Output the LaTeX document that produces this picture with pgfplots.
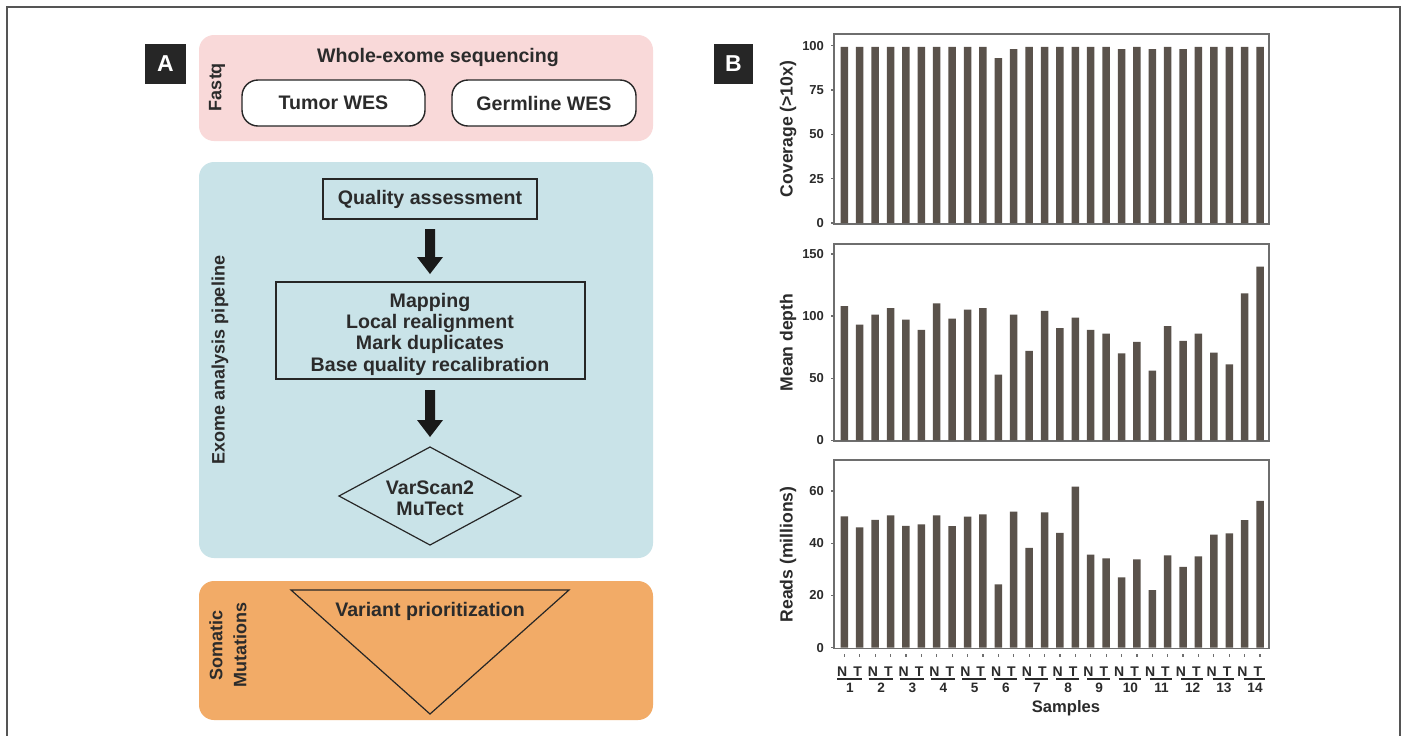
\documentclass[border=0pt]{standalone}
\usepackage{pgfplots}
\pgfplotsset{compat=1.18}
\usepackage{pgfplotstable}
\usepackage{fontspec}
\setmainfont{Liberation Sans}
\definecolor{barc}{HTML}{5A524B}
\definecolor{axcol}{HTML}{6E6E6E}
\definecolor{txtc}{HTML}{2B2B2B}
\definecolor{pinkc}{HTML}{F9D9D9}
\definecolor{bluec}{HTML}{C9E3E8}
\definecolor{orangec}{HTML}{F2AB67}
\definecolor{labelbg}{HTML}{262626}
\definecolor{bordercol}{HTML}{555555}
\newcommand\ft{\bfseries\fontsize{9.8}{11.8}\selectfont}
\newcommand\fr{\bfseries\fontsize{9}{11}\selectfont}

\pgfplotstableread{
x cov depth reads
0 99.4 108.1 50.3
1 99.4 93.1 46.1
2 99.4 101.2 49.0
3 99.4 106.3 50.7
4 99.4 97.1 46.7
5 99.4 88.8 47.2
6 99.4 110.3 50.7
7 99.4 97.9 46.6
8 99.4 105.2 50.2
9 99.4 106.3 51.1
10 93.0 52.9 24.3
11 98.1 101.2 52.1
12 99.4 71.9 38.2
13 99.4 104.1 51.8
14 99.4 90.2 44.0
15 99.4 98.7 61.7
16 99.4 88.8 35.7
17 99.4 85.9 34.2
18 98.1 70.0 26.9
19 99.4 79.2 33.8
20 98.1 56.1 22.1
21 99.4 92.0 35.4
22 98.1 80.0 31.0
23 99.4 85.9 35.0
24 99.4 70.6 43.3
25 99.4 61.2 43.8
26 99.4 118.3 48.9
27 99.4 139.8 56.2
}\datatable

\pgfplotsset{
  barax/.style={
    scale only axis, width=217.5pt,
    xmin=-0.67, xmax=27.58,
    axis line style={draw=axcol, line width=0.7pt},
    tick align=outside,
    xtick pos=bottom, ytick pos=left,
    major tick length=1.5pt,
    tick style={draw=axcol, line width=0.6pt},
    yticklabel style={font=\bfseries\fontsize{6.5}{7}\selectfont, text=txtc},
    /pgf/number format/assume math mode=true,
    ylabel style={font=\bfseries\fontsize{8.8}{10}\selectfont, text=txtc, at={(axis description cs:-0.1057,0.5)}, anchor=center},
    ybar, bar width=3.75pt, bar shift=0pt,
    clip=false,
  }
}

\begin{document}
\begin{tikzpicture}
\begin{scope}[x=0.5pt,y=-0.5pt]
\useasboundingbox (0,0) rectangle (1407,735);
\fill[white] (0,0) rectangle (1407,735);
\draw[bordercol, line width=0.6pt] (7,740) -- (7,7) -- (1400,7) -- (1400,740);
% Panel labels
\fill[labelbg] (145,44) rectangle (186,84);
\node[white, font=\bfseries\fontsize{11.5}{13}\selectfont] at (165.5,64) {A};
\fill[labelbg] (714,44) rectangle (753,84);
\node[white, font=\bfseries\fontsize{11.5}{13}\selectfont] at (733.5,64) {B};
% Fastq panel
\fill[pinkc, rounded corners=7.5pt] (199,35) rectangle (653,141);
\node[font=\ft, text=txtc] at (438,57) {Whole-exome sequencing};
\draw[fill=white, draw=black!85, line width=0.7pt, rounded corners=8pt] (242,80) rectangle (425,126);
\node[font=\ft, text=txtc] at (333.5,103) {Tumor WES};
\draw[fill=white, draw=black!85, line width=0.7pt, rounded corners=8pt] (452,80) rectangle (636,126);
\node[font=\ft, text=txtc] at (544,103) {Germline WES};
\node[font=\fr, text=txtc, rotate=90] at (217,87) {Fastq};
% Pipeline panel
\fill[bluec, rounded corners=7.5pt] (199,162) rectangle (653,558);
\draw[draw=black!85, line width=0.7pt] (323,179) rectangle (537,219);
\node[font=\ft, text=txtc] at (430,199) {Quality assessment};
\fill[black!90] (425,229) -- (435,229) -- (435,257) -- (443,257) -- (430,274) -- (417,257) -- (425,257) -- cycle;
\draw[draw=black!85, line width=0.7pt] (276,282) rectangle (585,379);
\node[font=\ft, text=txtc] at (430,302) {Mapping};
\node[font=\ft, text=txtc] at (430,323) {Local realignment};
\node[font=\ft, text=txtc] at (430,344) {Mark duplicates};
\node[font=\ft, text=txtc] at (430,366) {Base quality recalibration};
\fill[black!90] (425,390) -- (435,390) -- (435,420) -- (443,420) -- (430,437) -- (417,420) -- (425,420) -- cycle;
\draw[draw=black!85, line width=0.6pt] (430,447) -- (521,496) -- (430,545) -- (339,496) -- cycle;
\node[font=\ft, text=txtc] at (430,488) {VarScan2};
\node[font=\ft, text=txtc] at (430,509) {MuTect};
\node[font=\fr, text=txtc, rotate=90] at (220,360) {Exome analysis pipeline};
% Somatic panel
\fill[orangec, rounded corners=7.5pt] (199,581) rectangle (653,720);
\draw[draw=black!85, line width=0.6pt] (291,590) -- (569,590) -- (430,714) -- cycle;
\node[font=\ft, text=txtc] at (430,611) {Variant prioritization};
\node[font=\fr, text=txtc, rotate=90] at (216,645) {Somatic};
\node[font=\fr, text=txtc, rotate=90] at (240,645) {Mutations};
\end{scope}

% Coverage
\begin{axis}[barax, at={(417pt,-112pt)}, anchor=south west, height=95pt,
  ymin=-0.56, ymax=106.6, ytick={0,25,50,75,100}, xtick=\empty,
  ylabel={Coverage (>10x)}]
\addplot[fill=barc, draw=none] table[x=x, y=cov] {\datatable};
\end{axis}

% Mean depth
\begin{axis}[barax, at={(417pt,-220.5pt)}, anchor=south west, height=98.5pt,
  ymin=-0.56, ymax=158, ytick={0,50,100,150}, xtick=\empty,
  ylabel={Mean depth}]
\addplot[fill=barc, draw=none] table[x=x, y=depth] {\datatable};
\end{axis}

% Reads
\begin{axis}[barax, at={(417pt,-324.35pt)}, anchor=south west, height=94.35pt,
  ymin=-0.38, ymax=71.9, ytick={0,20,40,60},
  xtick={0,...,27},
  xticklabels={N,T,N,T,N,T,N,T,N,T,N,T,N,T,N,T,N,T,N,T,N,T,N,T,N,T,N,T},
  xticklabel style={font=\bfseries\fontsize{7}{8}\selectfont, text=txtc, anchor=base, yshift=-12.4pt, xshift=-1.1pt},
  every x tick/.append style={yshift=-2.5pt},
  ylabel={Reads (millions)}]
\addplot[fill=barc, draw=none] table[x=x, y=reads] {\datatable};
\foreach \s/\e in {-0.45/1.13, 1.58/3.15, 3.61/5.16, 5.64/7.18, 7.67/9.20, 9.70/11.22, 11.73/13.23, 13.76/15.25, 15.79/17.27, 17.82/19.28, 19.85/21.30, 21.88/23.32, 23.91/25.33, 25.94/27.35}{
  \edef\tmp{\noexpand\draw[txtc, line width=0.85pt] (axis cs:\s,-11.9) -- (axis cs:\e,-11.9);}\tmp
}
\foreach \c/\n in {0.37/1, 2.39/2, 4.42/3, 6.44/4, 8.46/5, 10.49/6, 12.51/7, 14.53/8, 16.55/9, 18.58/10, 20.60/11, 22.62/12, 24.65/13, 26.67/14}{
  \edef\tmp{\noexpand\node[anchor=base, font=\noexpand\bfseries\noexpand\fontsize{6.8}{8}\noexpand\selectfont, text=txtc] at (axis cs:\c,-17.3) {\n};}\tmp
}
\node[anchor=base, font=\bfseries\fontsize{8.3}{10}\selectfont, text=txtc] at (axis cs:14.4,-24.8) {Samples};
\end{axis}
\end{tikzpicture}
\end{document}
